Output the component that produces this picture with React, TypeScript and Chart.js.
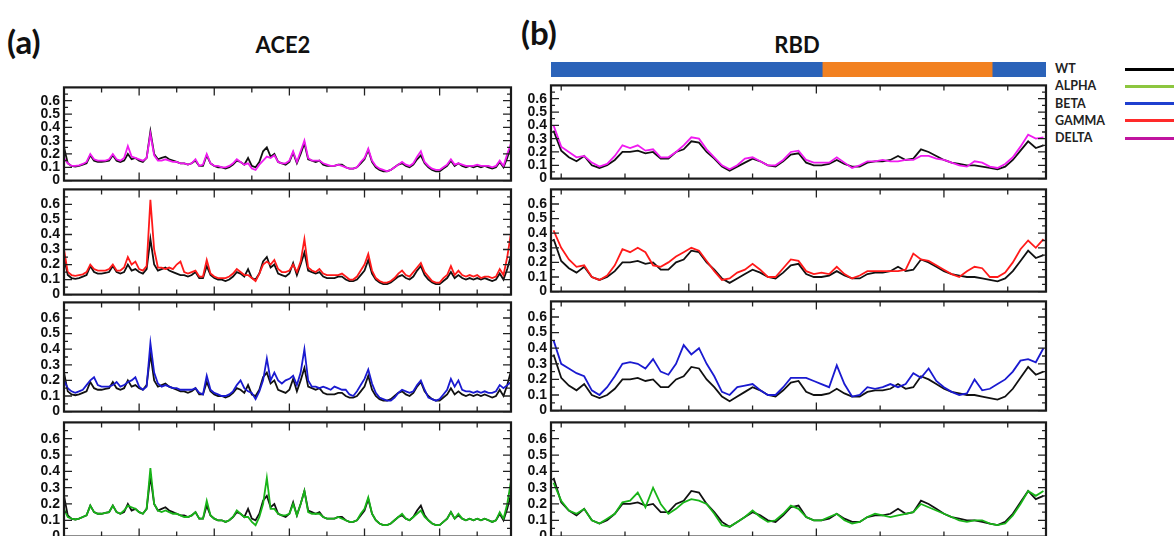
import React, { useEffect, useRef } from "react";
import { Chart, registerables } from "chart.js";
Chart.register(...registerables);

// ---------- data ----------
const ACE2_RES = Array.from({ length: 120 }, (_, i) => i * 5);
const RBD_RES = Array.from({ length: 65 }, (_, i) => -3 + i * 3);

const ACE2_WT = [
  0.25, 0.13, 0.11, 0.105, 0.11, 0.12, 0.13, 0.19, 0.15, 0.14,
  0.14, 0.145, 0.15, 0.19, 0.15, 0.14, 0.15, 0.2, 0.16, 0.17,
  0.15, 0.14, 0.17, 0.37, 0.2, 0.16, 0.17, 0.18, 0.16, 0.15,
  0.14, 0.13, 0.13, 0.12, 0.13, 0.15, 0.11, 0.11, 0.19, 0.13,
  0.11, 0.1, 0.1, 0.09, 0.1, 0.12, 0.15, 0.14, 0.12, 0.17,
  0.11, 0.1, 0.14, 0.22, 0.25, 0.18, 0.2, 0.14, 0.13, 0.12,
  0.14, 0.21, 0.13, 0.2, 0.28, 0.16, 0.15, 0.14, 0.15, 0.12,
  0.11, 0.11, 0.11, 0.12, 0.12, 0.1, 0.09, 0.09, 0.1, 0.13,
  0.16, 0.23, 0.14, 0.1, 0.08, 0.07, 0.07, 0.08, 0.1, 0.12,
  0.13, 0.11, 0.1, 0.12, 0.16, 0.19, 0.13, 0.1, 0.08, 0.07,
  0.07, 0.09, 0.11, 0.15, 0.11, 0.13, 0.11, 0.1, 0.11, 0.1,
  0.11, 0.1, 0.11, 0.1, 0.09, 0.1, 0.14, 0.1, 0.17, 0.26,
];
const ACE2_DELTA = [
  0.17, 0.13, 0.11, 0.11, 0.115, 0.125, 0.14, 0.2, 0.16, 0.15,
  0.15, 0.15, 0.16, 0.2, 0.16, 0.15, 0.17, 0.26, 0.18, 0.17,
  0.16, 0.15, 0.17, 0.35, 0.19, 0.15, 0.15, 0.16, 0.15, 0.14,
  0.14, 0.13, 0.13, 0.12, 0.13, 0.16, 0.11, 0.12, 0.2, 0.13,
  0.11, 0.11, 0.1, 0.1, 0.11, 0.13, 0.16, 0.14, 0.12, 0.13,
  0.09, 0.08, 0.12, 0.15, 0.18, 0.17, 0.19, 0.14, 0.13, 0.13,
  0.15, 0.22, 0.14, 0.22, 0.3, 0.17, 0.15, 0.15, 0.15, 0.13,
  0.12, 0.11, 0.11, 0.12, 0.11, 0.1, 0.09, 0.09, 0.1, 0.14,
  0.17, 0.24, 0.15, 0.11, 0.09, 0.08, 0.07, 0.08, 0.1, 0.12,
  0.14, 0.12, 0.11, 0.13, 0.18, 0.22, 0.14, 0.11, 0.09, 0.08,
  0.08, 0.1, 0.12, 0.16, 0.12, 0.13, 0.12, 0.11, 0.11, 0.11,
  0.12, 0.11, 0.11, 0.11, 0.1, 0.11, 0.15, 0.11, 0.2, 0.28,
];
const ACE2_GAMMA = [
  0.3, 0.15, 0.13, 0.125, 0.13, 0.135, 0.15, 0.2, 0.17, 0.16,
  0.16, 0.16, 0.17, 0.2, 0.16, 0.16, 0.18, 0.25, 0.2, 0.22,
  0.17, 0.16, 0.19, 0.63, 0.3, 0.18, 0.18, 0.17, 0.18, 0.17,
  0.2, 0.22, 0.15, 0.14, 0.15, 0.16, 0.12, 0.12, 0.23, 0.14,
  0.12, 0.11, 0.11, 0.11, 0.12, 0.14, 0.17, 0.15, 0.13, 0.13,
  0.11, 0.09, 0.14, 0.2, 0.22, 0.2, 0.23, 0.17, 0.15, 0.15,
  0.16, 0.2, 0.15, 0.22, 0.37, 0.18, 0.16, 0.15, 0.17, 0.14,
  0.13, 0.13, 0.13, 0.13, 0.14, 0.12, 0.1, 0.1, 0.12, 0.16,
  0.2, 0.27, 0.16, 0.11, 0.09, 0.08, 0.08, 0.09, 0.11, 0.14,
  0.16, 0.13, 0.12, 0.15, 0.18, 0.21, 0.15, 0.12, 0.09, 0.08,
  0.08, 0.11, 0.13, 0.19, 0.13, 0.16, 0.13, 0.12, 0.13, 0.12,
  0.13, 0.11, 0.12, 0.12, 0.11, 0.12, 0.17, 0.13, 0.25, 0.41,
];
const ACE2_BETA = [
  0.2, 0.15, 0.13, 0.12, 0.13, 0.14, 0.17, 0.2, 0.22, 0.17,
  0.16, 0.16, 0.16, 0.17, 0.19, 0.16, 0.17, 0.19, 0.2, 0.22,
  0.16, 0.14, 0.16, 0.44, 0.25, 0.18, 0.16, 0.17, 0.16, 0.15,
  0.15, 0.14, 0.14, 0.14, 0.14, 0.15, 0.12, 0.11, 0.23, 0.14,
  0.12, 0.11, 0.1, 0.1, 0.11, 0.13, 0.17, 0.2, 0.15, 0.13,
  0.12, 0.08, 0.13, 0.2, 0.34, 0.2, 0.25, 0.2, 0.18, 0.2,
  0.21, 0.23, 0.17, 0.25, 0.4, 0.2, 0.16, 0.16, 0.15, 0.16,
  0.15, 0.14, 0.16, 0.15, 0.14, 0.14, 0.11, 0.1, 0.13, 0.17,
  0.21, 0.27, 0.18, 0.12, 0.09, 0.08, 0.07, 0.07, 0.09, 0.12,
  0.14, 0.13, 0.12, 0.13, 0.17, 0.2, 0.14, 0.09, 0.08, 0.07,
  0.08, 0.11, 0.14, 0.21, 0.16, 0.2, 0.14, 0.13, 0.13, 0.12,
  0.13, 0.12, 0.13, 0.12, 0.12, 0.13, 0.17, 0.15, 0.17, 0.19,
];
const ACE2_ALPHA = [
  0.17, 0.12, 0.11, 0.105, 0.11, 0.12, 0.13, 0.19, 0.15, 0.14,
  0.14, 0.145, 0.15, 0.19, 0.15, 0.14, 0.16, 0.19, 0.18, 0.17,
  0.15, 0.14, 0.17, 0.42, 0.2, 0.16, 0.15, 0.16, 0.15, 0.14,
  0.14, 0.13, 0.12, 0.12, 0.13, 0.15, 0.11, 0.11, 0.22, 0.13,
  0.11, 0.1, 0.1, 0.09, 0.1, 0.12, 0.16, 0.14, 0.12, 0.12,
  0.09, 0.07, 0.12, 0.2, 0.36, 0.17, 0.17, 0.14, 0.13, 0.13,
  0.14, 0.2, 0.13, 0.2, 0.28, 0.15, 0.14, 0.14, 0.14, 0.12,
  0.11, 0.11, 0.11, 0.12, 0.11, 0.1, 0.09, 0.09, 0.1, 0.14,
  0.17, 0.24, 0.14, 0.1, 0.08, 0.07, 0.07, 0.08, 0.1, 0.12,
  0.14, 0.11, 0.1, 0.12, 0.14, 0.16, 0.12, 0.1, 0.08, 0.07,
  0.07, 0.09, 0.11, 0.15, 0.11, 0.14, 0.11, 0.1, 0.11, 0.1,
  0.11, 0.1, 0.11, 0.1, 0.09, 0.1, 0.15, 0.11, 0.2, 0.34,
];

const RBD_WT = [
  0.36, 0.21, 0.16, 0.13, 0.17, 0.1, 0.08, 0.1, 0.14, 0.2,
  0.2, 0.21, 0.19, 0.2, 0.15, 0.15, 0.2, 0.22, 0.28, 0.27,
  0.2, 0.15, 0.09, 0.06, 0.09, 0.12, 0.15, 0.13, 0.1, 0.09,
  0.13, 0.18, 0.19, 0.12, 0.1, 0.1, 0.11, 0.14, 0.11, 0.09,
  0.09, 0.12, 0.13, 0.13, 0.14, 0.17, 0.14, 0.15, 0.22, 0.2,
  0.17, 0.14, 0.12, 0.11, 0.1, 0.1, 0.09, 0.08, 0.07, 0.09,
  0.14, 0.21, 0.28, 0.23, 0.25,
];
const RBD_DELTA = [
  0.4, 0.24, 0.2, 0.16, 0.17, 0.12, 0.09, 0.11, 0.17, 0.25,
  0.23, 0.25, 0.21, 0.22, 0.16, 0.16, 0.2, 0.25, 0.31, 0.3,
  0.22, 0.16, 0.1, 0.07, 0.1, 0.15, 0.16, 0.13, 0.1, 0.1,
  0.14, 0.2, 0.21, 0.14, 0.12, 0.12, 0.12, 0.16, 0.12, 0.08,
  0.1, 0.13, 0.13, 0.14, 0.13, 0.13, 0.14, 0.14, 0.17, 0.17,
  0.15, 0.14, 0.12, 0.1, 0.09, 0.13, 0.12, 0.09, 0.08, 0.11,
  0.16, 0.24, 0.33, 0.3, 0.31,
];
const RBD_GAMMA = [
  0.42, 0.3, 0.22, 0.17, 0.18, 0.1, 0.08, 0.11, 0.18, 0.29,
  0.27, 0.3, 0.27, 0.18, 0.17, 0.2, 0.24, 0.27, 0.3, 0.28,
  0.21, 0.14, 0.08, 0.09, 0.13, 0.15, 0.19, 0.15, 0.1, 0.1,
  0.16, 0.22, 0.21, 0.14, 0.12, 0.13, 0.12, 0.17, 0.12, 0.09,
  0.11, 0.14, 0.14, 0.14, 0.14, 0.14, 0.15, 0.26, 0.22, 0.21,
  0.18, 0.15, 0.12, 0.1, 0.14, 0.17, 0.16, 0.1, 0.1, 0.13,
  0.2, 0.29, 0.35, 0.3, 0.36,
];
const RBD_BETA = [
  0.45, 0.3, 0.27, 0.24, 0.22, 0.13, 0.1, 0.15, 0.22, 0.3,
  0.31, 0.3, 0.27, 0.33, 0.25, 0.23, 0.3, 0.42, 0.36, 0.4,
  0.3, 0.22, 0.12, 0.1, 0.15, 0.16, 0.17, 0.13, 0.1, 0.1,
  0.15, 0.21, 0.21, 0.21, 0.19, 0.17, 0.15, 0.29, 0.17, 0.09,
  0.1, 0.15, 0.14, 0.15, 0.17, 0.15, 0.17, 0.24, 0.21, 0.27,
  0.19, 0.15, 0.12, 0.1, 0.11, 0.2, 0.13, 0.14, 0.17, 0.2,
  0.25, 0.32, 0.33, 0.31, 0.4,
];
const RBD_ALPHA = [
  0.33, 0.22, 0.16, 0.14, 0.17, 0.1, 0.08, 0.11, 0.14, 0.21,
  0.22, 0.27, 0.18, 0.3, 0.2, 0.14, 0.17, 0.21, 0.23, 0.22,
  0.2, 0.14, 0.07, 0.06, 0.09, 0.12, 0.16, 0.12, 0.09, 0.1,
  0.14, 0.19, 0.17, 0.12, 0.1, 0.1, 0.12, 0.14, 0.1, 0.08,
  0.09, 0.12, 0.14, 0.13, 0.12, 0.13, 0.14, 0.15, 0.2, 0.18,
  0.16, 0.14, 0.12, 0.1, 0.09, 0.1, 0.1, 0.08, 0.07, 0.08,
  0.13, 0.2, 0.28, 0.25, 0.28,
];

const Y_TICKS = [0, 0.1, 0.2, 0.3, 0.4, 0.5, 0.6];
const Y_MINOR = [0.05, 0.15, 0.25, 0.35, 0.45, 0.55, 0.65];
const ACE2_XTICKS = [50, 100, 150, 200, 250, 300, 350, 400, 450, 500, 550];
const ACE2_XMAJOR = [100, 200, 300, 400, 500];
const RBD_XTICKS = [0, 25, 50, 75, 100, 125, 150, 175];

const DOMAIN_START = [-4, 102.3, 168.9];
const DOMAIN_END = [102.3, 168.9, 190];
const DOMAIN_COLORS = ["#2b63b9", "#f28121", "#2b63b9"];

const LEGEND_NAMES = ["WT", "ALPHA", "BETA", "GAMMA", "DELTA"];
const LEGEND_COLORS = ["#000000", "#8cc63f", "#1f3fcf", "#ff2a2a", "#c0149f"];

const C_WT = "#111111";
const C_ALPHA = "#18b418";
const C_BETA = "#1a1ad0";
const C_GAMMA = "#ff1a1a";
const C_DELTA = "#f01af0";

// ---------- layout ----------
const YW = 34;
const PT = 12;
const PB = 12;
const PR = 4;

const framePlugin = {
  id: "frame",
  afterDraw(chart: any, _a: any, opts: any) {
    const { ctx, chartArea: a, scales } = chart;
    const ys = scales.y;
    const xs = scales.x;
    ctx.save();
    ctx.strokeStyle = "#222";
    ctx.lineWidth = 1.3;
    ctx.beginPath();
    const yt = (v: number, L: number) => {
      const y = ys.getPixelForValue(v);
      ctx.moveTo(a.left, y);
      ctx.lineTo(a.left + L, y);
      ctx.moveTo(a.right, y);
      ctx.lineTo(a.right - L, y);
    };
    Y_TICKS.forEach((v) => yt(v, 8));
    Y_MINOR.forEach((v) => yt(v, 4));
    (opts.xTicks || []).forEach((v: number) => {
      const x = xs.getPixelForValue(v);
      const L = (opts.xMajor || []).includes(v) ? 8 : 5;
      ctx.moveTo(x, a.top);
      ctx.lineTo(x, a.top + L);
      ctx.moveTo(x, a.bottom);
      ctx.lineTo(x, a.bottom - L);
    });
    ctx.stroke();
    ctx.lineWidth = 2.2;
    ctx.strokeStyle = "#1a1a1a";
    ctx.strokeRect(a.left, a.top, a.width, a.height);
    ctx.restore();
  },
};

type PanelProps = {
  left: number;
  top: number;
  bottom: number;
  width: number;
  xs: number[];
  xMin: number;
  xMax: number;
  wt: number[];
  v: number[];
  color: string;
  xTicks: number[];
  xMajor: number[];
};

function Panel(p: PanelProps) {
  const ref = useRef<HTMLCanvasElement>(null);
  const W = YW + p.width + PR;
  const H = PT + (p.bottom - p.top) + PB;
  useEffect(() => {
    const chart = new Chart(ref.current as HTMLCanvasElement, {
      type: "line",
      data: {
        datasets: [
          {
            data: p.xs.map((x, i) => ({ x, y: p.v[i] })),
            borderColor: p.color,
            borderWidth: 1.8,
            pointRadius: 0,
            tension: 0,
          },
          {
            data: p.xs.map((x, i) => ({ x, y: p.wt[i] })),
            borderColor: C_WT,
            borderWidth: 1.8,
            pointRadius: 0,
            tension: 0,
          },
        ],
      },
      options: {
        animation: false,
        responsive: false,
        maintainAspectRatio: false,
        layout: { padding: { top: PT, bottom: PB, right: PR, left: 0 } },
        plugins: {
          legend: { display: false },
          tooltip: { enabled: false },
          frame: { xTicks: p.xTicks, xMajor: p.xMajor },
        } as any,
        scales: {
          x: { type: "linear", min: p.xMin, max: p.xMax, display: false },
          y: {
            min: 0,
            max: 0.7,
            afterBuildTicks: (s: any) => {
              s.ticks = Y_TICKS.map((v) => ({ value: v }));
            },
            afterFit: (s: any) => {
              s.width = YW;
            },
            grid: { display: false, drawTicks: false },
            border: { display: false },
            ticks: {
              autoSkip: false,
              padding: 4,
              color: "#111",
              font: { family: "'Liberation Sans', Arial, sans-serif", weight: "bold", size: 14 },
              callback: (v: any) => (Number(v) === 0 ? "0" : Number(v).toFixed(1)),
            },
          },
        },
      },
      plugins: [framePlugin],
    } as any);
    return () => chart.destroy();
  }, []);
  return (
    <canvas
      ref={ref}
      width={W}
      height={H}
      style={{ position: "absolute", left: p.left - YW, top: p.top - PT, width: W, height: H }}
    />
  );
}

function DomainBar() {
  const ref = useRef<HTMLCanvasElement>(null);
  useEffect(() => {
    const chart = new Chart(ref.current as HTMLCanvasElement, {
      type: "bar",
      data: {
        labels: ["RBD"],
        datasets: DOMAIN_START.map((s, i) => ({
          data: [[s, DOMAIN_END[i]]],
          backgroundColor: DOMAIN_COLORS[i],
          borderWidth: 0,
          grouped: false,
          barPercentage: 1,
          categoryPercentage: 1,
        })),
      },
      options: {
        indexAxis: "y",
        animation: false,
        responsive: false,
        maintainAspectRatio: false,
        layout: { padding: 0 },
        plugins: { legend: { display: false }, tooltip: { enabled: false } },
        scales: {
          x: { type: "linear", min: -4, max: 190, display: false },
          y: { display: false },
        },
      },
    } as any);
    return () => chart.destroy();
  }, []);
  return (
    <canvas
      ref={ref}
      width={495}
      height={15}
      style={{ position: "absolute", left: 551, top: 62, width: 495, height: 15 }}
    />
  );
}

const LEFT = { left: 64, width: 447 };
const RIGHT = { left: 551, width: 495 };
const LEFT_ROWS = [
  [87, 181],
  [189, 295],
  [302, 412],
  [422, 537],
];
const RIGHT_ROWS = [
  [85, 179],
  [189, 292],
  [301, 411],
  [422, 537],
];

export default function App() {
  const ace2Vars = [
    { v: ACE2_DELTA, c: C_DELTA },
    { v: ACE2_GAMMA, c: C_GAMMA },
    { v: ACE2_BETA, c: C_BETA },
    { v: ACE2_ALPHA, c: C_ALPHA },
  ];
  const rbdVars = [
    { v: RBD_DELTA, c: C_DELTA },
    { v: RBD_GAMMA, c: C_GAMMA },
    { v: RBD_BETA, c: C_BETA },
    { v: RBD_ALPHA, c: C_ALPHA },
  ];
  const titleFont = "Lato, 'Open Sans', sans-serif";
  return (
    <div
      style={{
        position: "absolute",
        left: 0,
        top: 0,
        width: 1174,
        height: 536,
        overflow: "hidden",
        background: "#fff",
      }}
    >
      <div style={{ position: "absolute", left: 7, top: 25, font: `bold 33px ${titleFont}`, lineHeight: 1, color: "#111" }}>
        (a)
      </div>
      <div
        style={{
          position: "absolute",
          left: 283,
          top: 34,
          transform: "translateX(-50%)",
          font: `bold 22px ${titleFont}`,
          lineHeight: 1,
          color: "#111",
        }}
      >
        ACE2
      </div>
      <div style={{ position: "absolute", left: 521, top: 16, font: `bold 33px ${titleFont}`, lineHeight: 1, color: "#111" }}>
        (b)
      </div>
      <div
        style={{
          position: "absolute",
          left: 797,
          top: 34,
          transform: "translateX(-50%)",
          font: `bold 22px ${titleFont}`,
          lineHeight: 1,
          color: "#111",
        }}
      >
        RBD
      </div>
      <DomainBar />
      {LEGEND_NAMES.map((n, i) => {
        const cy = 69 + i * 17.3;
        return (
          <React.Fragment key={n}>
            <div
              style={{
                position: "absolute",
                left: 1055,
                top: cy - 7,
                font: `bold 12.5px ${titleFont}`,
                lineHeight: "14px",
                color: "#222",
              }}
            >
              {n}
            </div>
            <div
              style={{
                position: "absolute",
                left: 1125,
                top: cy - 1.5,
                width: 60,
                height: 3,
                background: LEGEND_COLORS[i],
              }}
            />
          </React.Fragment>
        );
      })}
      {LEFT_ROWS.map((r, i) => (
        <Panel
          key={"a" + i}
          left={LEFT.left}
          width={LEFT.width}
          top={r[0]}
          bottom={r[1]}
          xs={ACE2_RES}
          xMin={0}
          xMax={595}
          wt={ACE2_WT}
          v={ace2Vars[i].v}
          color={ace2Vars[i].c}
          xTicks={ACE2_XTICKS}
          xMajor={ACE2_XMAJOR}
        />
      ))}
      {RIGHT_ROWS.map((r, i) => (
        <Panel
          key={"b" + i}
          left={RIGHT.left}
          width={RIGHT.width}
          top={r[0]}
          bottom={r[1]}
          xs={RBD_RES}
          xMin={-4}
          xMax={190}
          wt={RBD_WT}
          v={rbdVars[i].v}
          color={rbdVars[i].c}
          xTicks={RBD_XTICKS}
          xMajor={i === 1 ? [50, 100, 150] : [100]}
        />
      ))}
    </div>
  );
}
